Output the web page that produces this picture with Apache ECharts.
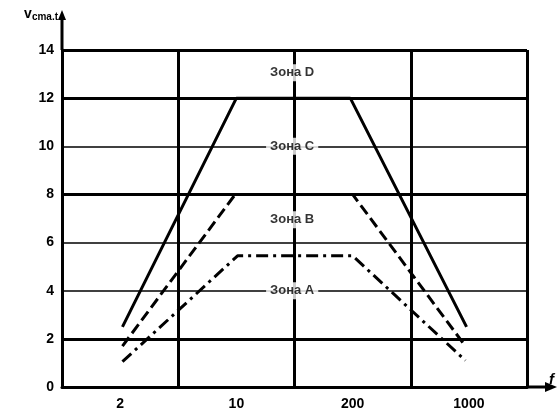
<!DOCTYPE html>
<html>
<head>
<meta charset="utf-8">
<script src="https://cdn.jsdelivr.net/npm/echarts@6/dist/echarts.min.js"></script>
<style>html,body{margin:0;padding:0;background:#fff}#c{width:560px;height:413px}</style>
</head>
<body>
<div id="c"></div>
<script>
// tick labels / categories
var categories = ['2', '10', '200', '1000'];
var yTicks = [0, 2, 4, 6, 8, 10, 12, 14];
// series values: [position along category band axis (0..4), value]
var zoneCD = [[0.52, 2.5], [1.5, 12], [2.48, 12], [3.48, 2.5]];
var zoneBC = [[0.52, 1.7], [1.49, 8], [2.5, 8], [3.47, 1.7]];
var zoneAB = [[0.52, 1.05], [1.51, 5.45], [2.5, 5.45], [3.47, 1.1]];
// zone labels
var zoneNames = ['Зона D', 'Зона C', 'Зона B', 'Зона A'];
var zoneLabelPos = [[1.98, 13.05], [1.98, 10], [1.98, 6.95], [1.98, 4]];
var thickLines = [2, 8, 12, 14];

var FONT = 'Liberation Sans, Arial, sans-serif';
var chart = echarts.init(document.getElementById('c'), null, {renderer: 'canvas'});

var labelData = zoneNames.map(function (n, i) {
  return {value: zoneLabelPos[i], name: n};
});

var option = {
  animation: false,
  backgroundColor: '#fff',
  grid: {left: 62, right: 33, top: 50, bottom: 26, containLabel: false},
  xAxis: [{
    type: 'category',
    data: categories,
    boundaryGap: true,
    axisLine: {show: true, lineStyle: {color: '#000', width: 3}},
    axisTick: {show: false},
    axisLabel: {color: '#000', fontFamily: FONT, fontWeight: 'bold', fontSize: 14, margin: 10},
    splitLine: {show: true, lineStyle: {color: '#000', width: 3}},
    name: 'f',
    nameLocation: 'end',
    nameGap: 22,
    nameTextStyle: {color: '#000', fontFamily: FONT, fontStyle: 'italic', fontWeight: 'bold', fontSize: 15, verticalAlign: 'bottom', padding: [0, 0, 0, 0]}
  }, {
    type: 'value',
    min: 0, max: 4,
    show: false,
    splitLine: {show: false}
  }],
  yAxis: {
    type: 'value',
    min: 0, max: 14, interval: 2,
    axisLine: {show: true, lineStyle: {color: '#000', width: 3}},
    axisTick: {show: false},
    axisLabel: {color: '#000', fontFamily: FONT, fontWeight: 'bold', fontSize: 14, margin: 8},
    splitLine: {show: true, lineStyle: {color: '#000', width: 1.5}},
    name: '{v|v}{s|cma.t}',
    nameLocation: 'end',
    nameGap: 28,
    nameTextStyle: {
      align: 'right',
      padding: [0, 4, 0, 0],
      rich: {
        v: {fontFamily: FONT, fontWeight: 'bold', fontSize: 14, color: '#000'},
        s: {fontFamily: FONT, fontWeight: 'bold', fontSize: 10, color: '#000', verticalAlign: 'bottom', padding: [6, 0, 0, 0]}
      }
    }
  },
  series: [{
    type: 'line',
    xAxisIndex: 1,
    data: zoneCD,
    symbol: 'none',
    lineStyle: {color: '#000', width: 3, type: 'solid'},
    z: 5,
    markLine: {
      silent: true,
      symbol: 'none',
      label: {show: false},
      lineStyle: {color: '#000', width: 3, type: 'solid'},
      data: thickLines.map(function (v) { return {yAxis: v}; })
    }
  }, {
    type: 'line',
    xAxisIndex: 1,
    data: zoneBC,
    symbol: 'none',
    lineStyle: {color: '#000', width: 3, type: [11, 5]},
    z: 5
  }, {
    type: 'line',
    xAxisIndex: 1,
    data: zoneAB,
    symbol: 'none',
    lineStyle: {color: '#000', width: 3, type: [12, 5, 3, 5]},
    z: 5
  }, {
    type: 'scatter',
    xAxisIndex: 1,
    data: labelData,
    symbolSize: 0,
    z: 10,
    label: {
      show: true,
      position: 'inside',
      formatter: '{b}',
      color: '#000',
      fontFamily: FONT,
      fontWeight: 'bold',
      fontSize: 13,
      backgroundColor: '#fff',
      padding: [2, 4]
    }
  }],
  graphic: []
};
chart.setOption(option);

// axis extensions with arrows (decoration), positioned from the axes themselves
var topLeft = chart.convertToPixel({xAxisIndex: 1, yAxisIndex: 0}, [0, 14]);
var right = chart.convertToPixel({xAxisIndex: 1, yAxisIndex: 0}, [4, 0]);
chart.setOption({
  graphic: [
    {type: 'line', shape: {x1: right[0], y1: right[1], x2: right[0] + 22, y2: right[1]}, style: {stroke: '#000', lineWidth: 3}},
    {type: 'polygon', shape: {points: [[right[0] + 30, right[1]], [right[0] + 18, right[1] - 5], [right[0] + 18, right[1] + 5]]}, style: {fill: '#000'}},
    {type: 'line', shape: {x1: topLeft[0], y1: topLeft[1], x2: topLeft[0], y2: topLeft[1] - 34}, style: {stroke: '#000', lineWidth: 3}},
    {type: 'polygon', shape: {points: [[topLeft[0], topLeft[1] - 40], [topLeft[0] - 4, topLeft[1] - 30], [topLeft[0] + 4, topLeft[1] - 30]]}, style: {fill: '#000'}}
  ]
});
</script>
</body>
</html>
